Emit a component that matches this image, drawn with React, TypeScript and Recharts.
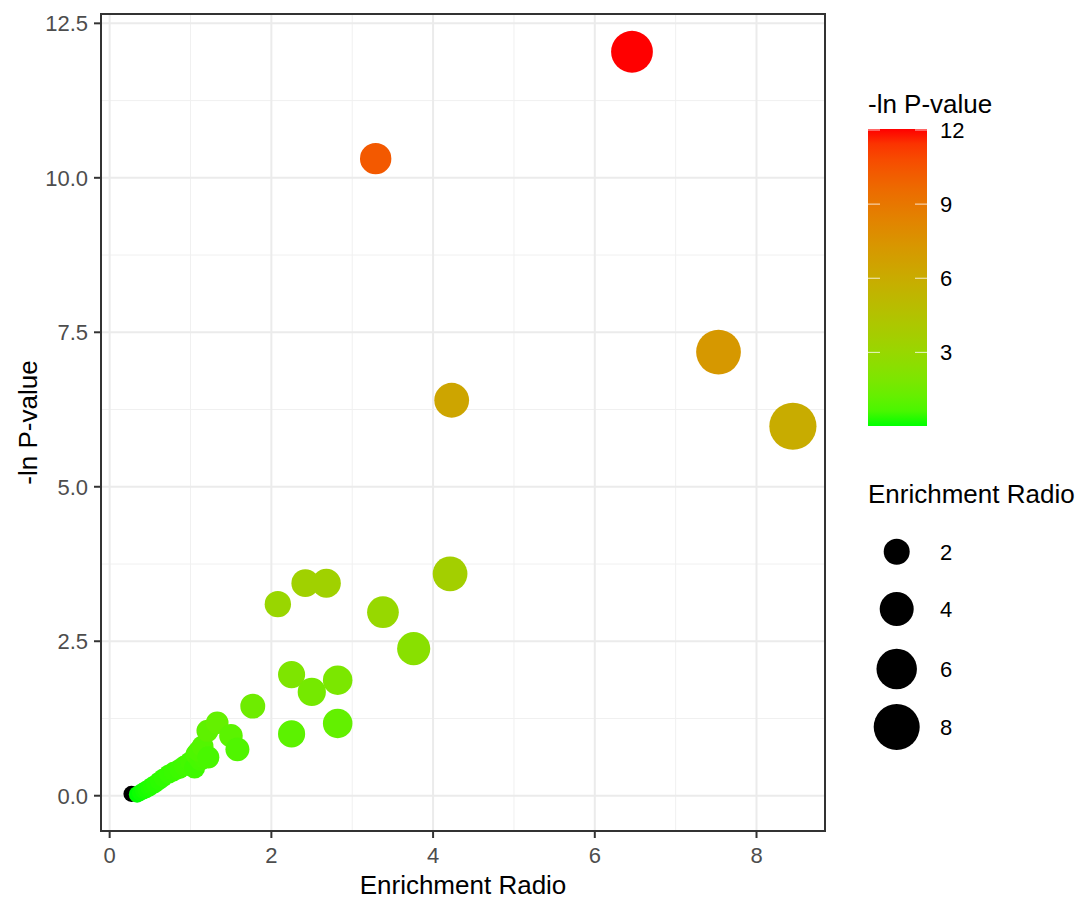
import React from 'react';
import {
  ScatterChart,
  Scatter,
  XAxis,
  YAxis,
  ZAxis,
  CartesianGrid,
  ReferenceArea,
  Cell,
} from 'recharts';

// values
const enrichment = [
  0.34, 0.38, 0.42, 0.45, 0.49, 0.52, 0.56, 0.61, 0.66, 0.73, 0.79, 0.86, 0.92, 0.95, 1.0, 1.05,
  1.07, 1.12, 1.17, 1.1, 1.15, 1.22, 1.21, 1.33, 1.5, 1.58, 1.77, 2.25, 2.82, 2.25, 2.5, 2.82, 2.08,
  2.42, 2.68, 3.38, 3.76, 4.21, 4.23, 3.29, 6.46, 7.53, 8.45,
];
const negLnP = [
  0.02, 0.05, 0.08, 0.1, 0.13, 0.16, 0.19, 0.24, 0.29, 0.35, 0.39, 0.43, 0.48, 0.5, 0.55, 0.45,
  0.67, 0.58, 0.62, 0.72, 0.8, 0.62, 1.05, 1.18, 0.97, 0.75, 1.45, 1.0, 1.17, 1.96, 1.68, 1.87, 3.1,
  3.44, 3.44, 2.97, 2.38, 3.59, 6.4, 10.31, 12.04, 7.18, 5.98,
];
// one point drawn black (under the green trail)
const blackEnrichment = [0.27];
const blackNegLnP = [0.03];

const xTicks = [0, 2, 4, 6, 8];
const yTicks = [0, 2.5, 5, 7.5, 10, 12.5];
const xMinor = [1, 3, 5, 7];
const yMinor = [1.25, 3.75, 6.25, 8.75, 11.25];
const colourBreaks = [3, 6, 9, 12];
const sizeBreaks = [2, 4, 6, 8];

const X_DOMAIN: [number, number] = [-0.107, 8.847];
const Y_DOMAIN: [number, number] = [-0.571, 12.651];

const FONT = '"Liberation Sans", Arial, sans-serif';
const TICK_GREY = '#4D4D4D';
const DARK = '#333333';

// ---- ggplot-like Lab gradient green -> red ----
const WHITE = [0.95047, 1, 1.08883];
const toLin = (c: number) => {
  c /= 255;
  return c <= 0.04045 ? c / 12.92 : Math.pow((c + 0.055) / 1.055, 2.4);
};
const fromLin = (c: number) => {
  const v = c <= 0.0031308 ? 12.92 * c : 1.055 * Math.pow(c, 1 / 2.4) - 0.055;
  return Math.round(Math.min(1, Math.max(0, v)) * 255);
};
function rgbToLab([r, g, b]: number[]) {
  const R = toLin(r), G = toLin(g), B = toLin(b);
  const X = (0.4124564 * R + 0.3575761 * G + 0.1804375 * B) / WHITE[0];
  const Y = (0.2126729 * R + 0.7151522 * G + 0.072175 * B) / WHITE[1];
  const Z = (0.0193339 * R + 0.119192 * G + 0.9503041 * B) / WHITE[2];
  const f = (t: number) => (t > 0.008856 ? Math.cbrt(t) : 7.787 * t + 16 / 116);
  const fx = f(X), fy = f(Y), fz = f(Z);
  return [116 * fy - 16, 500 * (fx - fy), 200 * (fy - fz)];
}
function labToHex([L, a, b]: number[]) {
  const fy = (L + 16) / 116;
  const fx = fy + a / 500;
  const fz = fy - b / 200;
  const inv = (t: number) => (t * t * t > 0.008856 ? t * t * t : (t - 16 / 116) / 7.787);
  const X = inv(fx) * WHITE[0], Y = inv(fy) * WHITE[1], Z = inv(fz) * WHITE[2];
  const r = fromLin(3.2404542 * X - 1.5371385 * Y - 0.4985314 * Z);
  const g = fromLin(-0.969266 * X + 1.8760108 * Y + 0.041556 * Z);
  const bl = fromLin(0.0556434 * X - 0.2040259 * Y + 1.0572252 * Z);
  return '#' + [r, g, bl].map((v) => v.toString(16).padStart(2, '0')).join('');
}
const LOW = rgbToLab([0, 255, 0]);
const HIGH = rgbToLab([255, 0, 0]);
const cMin = Math.min(...negLnP);
const cMax = Math.max(...negLnP);
function colourFor(v: number) {
  const t = Math.min(1, Math.max(0, (v - cMin) / (cMax - cMin)));
  return labToHex(LOW.map((l, i) => l + (HIGH[i] - l) * t));
}

// area-proportional size scale (radius^2 = 49 + 60 * ratio)
const radiusFor = (z: number) => Math.sqrt(49 + 60 * z);
const zMin = Math.min(...enrichment, ...blackEnrichment);
const zMax = Math.max(...enrichment, ...blackEnrichment);

const points = enrichment.map((x, i) => ({ x, y: negLnP[i], fill: colourFor(negLnP[i]) }));
const blackPoints = blackEnrichment.map((x, i) => ({ x, y: blackNegLnP[i] }));

function YTitle({ viewBox }: any) {
  const cx = viewBox.x - 4;
  const cy = viewBox.y + viewBox.height / 2;
  return (
    <text x={cx} y={cy} transform={`rotate(-90 ${cx} ${cy})`} textAnchor="middle" fontSize={26} fill="#000">
      -ln P-value
    </text>
  );
}

// legend boxes on the right
const BAR = { x: 868, top: 129, bottom: 426, w: 59 };
const barY = (v: number) => BAR.bottom - ((v - cMin) / (cMax - cMin)) * (BAR.bottom - BAR.top);
const keyY = [551.7, 609, 669, 727];

function Legends() {
  const stops = Array.from({ length: 21 }, (_, i) => i / 20);
  return (
    <svg width={1084} height={901} style={{ position: 'absolute', left: 0, top: 0, pointerEvents: 'none' }}>
      <defs>
        <linearGradient id="cbar" x1="0" y1="1" x2="0" y2="0">
          {stops.map((t) => (
            <stop key={t} offset={t} stopColor={colourFor(cMin + t * (cMax - cMin))} />
          ))}
        </linearGradient>
      </defs>
      <text x={868} y={113} fontSize={26} fill="#000">-ln P-value</text>
      <rect x={BAR.x} y={BAR.top} width={BAR.w} height={BAR.bottom - BAR.top} fill="url(#cbar)" />
      {colourBreaks.map((b) => (
        <g key={b}>
          <line x1={BAR.x} x2={BAR.x + 12} y1={barY(b)} y2={barY(b)} stroke="#fff" strokeWidth={1} opacity={0.8} />
          <line x1={BAR.x + BAR.w - 12} x2={BAR.x + BAR.w} y1={barY(b)} y2={barY(b)} stroke="#fff" strokeWidth={1} opacity={0.8} />
          <text x={940} y={barY(b) + 8} fontSize={22} fill="#000">{b}</text>
        </g>
      ))}
      <text x={868} y={503} fontSize={26} fill="#000">Enrichment Radio</text>
      {sizeBreaks.map((s, i) => (
        <g key={s}>
          <circle cx={896.7} cy={keyY[i]} r={radiusFor(s)} fill="#000" />
          <text x={940} y={keyY[i] + 8} fontSize={22} fill="#000">{s}</text>
        </g>
      ))}
    </svg>
  );
}

export default function App() {
  return (
    <div style={{ position: 'absolute', left: 0, top: 0, width: 1084, height: 901, background: '#fff', fontFamily: FONT }}>
      <ScatterChart width={1084} height={901} margin={{ top: 14, right: 259, bottom: 0, left: 41 }}>
        <CartesianGrid
          horizontalValues={yMinor}
          verticalValues={xMinor}
          stroke="#F0F0F0"
          strokeWidth={1}
        />
        <CartesianGrid
          horizontalValues={yTicks}
          verticalValues={xTicks}
          stroke="#EBEBEB"
          strokeWidth={2}
        />
        <XAxis
          type="number"
          dataKey="x"
          domain={X_DOMAIN}
          ticks={xTicks}
          allowDataOverflow
          height={70}
          axisLine={false}
          tickLine={{ stroke: DARK, strokeWidth: 2 }}
          tickSize={7}
          tickMargin={9}
          tick={{ fill: TICK_GREY, fontSize: 22 }}
          label={{ value: 'Enrichment Radio', position: 'insideBottom', offset: 7, fill: '#000', fontSize: 26 }}
        />
        <YAxis
          type="number"
          dataKey="y"
          domain={Y_DOMAIN}
          ticks={yTicks}
          allowDataOverflow
          width={60}
          axisLine={false}
          tickLine={{ stroke: DARK, strokeWidth: 2 }}
          tickSize={7}
          tickMargin={6}
          tick={{ fill: TICK_GREY, fontSize: 22 }}
          tickFormatter={(v: number) => v.toFixed(1)}
          label={<YTitle />}
        />
        <ZAxis
          type="number"
          dataKey="x"
          domain={[zMin, zMax]}
          range={[Math.PI * radiusFor(zMin) ** 2, Math.PI * radiusFor(zMax) ** 2]}
        />
        <ReferenceArea
          x1={X_DOMAIN[0]}
          x2={X_DOMAIN[1]}
          y1={Y_DOMAIN[0]}
          y2={Y_DOMAIN[1]}
          fill="none"
          stroke={DARK}
          strokeWidth={2}
        />
        <Scatter data={blackPoints} fill="#000" isAnimationActive={false} />
        <Scatter data={points} isAnimationActive={false}>
          {points.map((p, i) => (
            <Cell key={i} fill={p.fill} />
          ))}
        </Scatter>
      </ScatterChart>
      <Legends />
    </div>
  );
}
